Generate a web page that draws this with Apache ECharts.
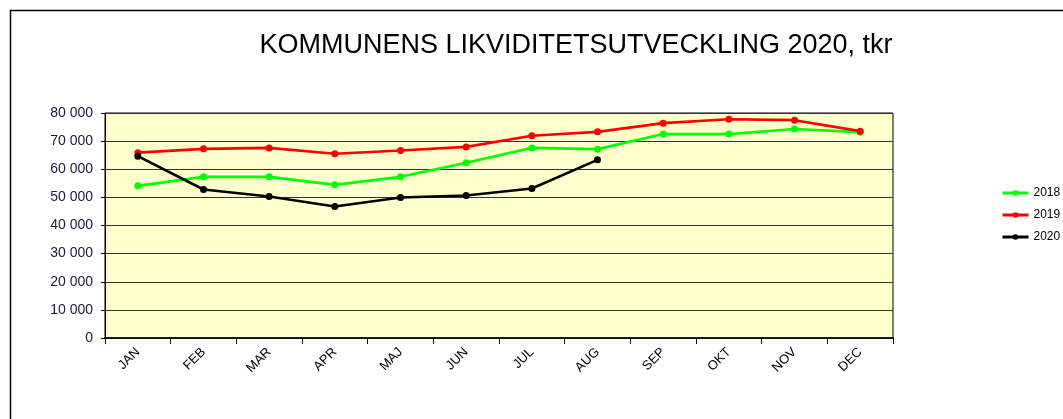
<!DOCTYPE html>
<html><head><meta charset="utf-8">
<script src="https://cdn.jsdelivr.net/npm/echarts@6/dist/echarts.min.js"></script>
<style>html,body{margin:0;padding:0;background:#fff}#c{width:1063px;height:419px}</style>
</head><body><div id="c"></div>
<script>
const months = ['JAN','FEB','MAR','APR','MAJ','JUN','JUL','AUG','SEP','OKT','NOV','DEC'];
const s2018 = [54100, 57300, 57300, 54450, 57300, 62300, 67600, 67150, 72500, 72500, 74300, 73200];
const s2019 = [65900, 67250, 67600, 65500, 66650, 67950, 71900, 73300, 76400, 77800, 77450, 73550];
const s2020 = [64650, 52800, 50300, 46750, 49950, 50650, 53150, 63350, null, null, null, null];
const yTicks = {min: 0, max: 80000, interval: 10000};
const titleText = 'KOMMUNENS LIKVIDITETSUTVECKLING 2020, tkr';

const chart = echarts.init(document.getElementById('c'), null, {renderer: 'canvas'});
function fmt(v){ return String(v).replace(/\B(?=(\d{3})+(?!\d))/g, ' '); }
function mk(name, data, color){
  return {name, type:'line', data, symbol:'circle', symbolSize:7, showSymbol:true,
    lineStyle:{color, width:2.6}, itemStyle:{color}, connectNulls:false, animation:false};
}
chart.setOption({
  animation:false,
  title:{text:titleText, left:571, top:27, textAlign:'center',
    textStyle:{fontFamily:'Liberation Sans, Arial', fontSize:27, fontWeight:'normal', color:'#000'}},
  graphic:[{type:'rect', shape:{x:10.5, y:10.5, width:1200, height:600}, style:{fill:'none', stroke:'#000', lineWidth:1.5}, silent:true, z:-1}],
  legend:{orient:'vertical', left:996, top:182, itemGap:10, itemWidth:26, itemHeight:7,
    lineStyle:{width:3},
    textStyle:{fontFamily:'Liberation Sans, Arial', fontSize:12, color:'#000'},
    data:['2018','2019','2020']},
  grid:{left:105, right:170, top:113, bottom:81, show:true, backgroundColor:'#FFFFCC', borderColor:'#000', borderWidth:1},
  xAxis:{type:'category', data:months, boundaryGap:true,
    axisLine:{lineStyle:{color:'#000', width:1.5}},
    axisTick:{show:true, length:6, lineStyle:{color:'#000'}},
    axisLabel:{rotate:45, margin:12, color:'#000', fontFamily:'Liberation Sans, Arial', fontSize:13}},
  yAxis:{type:'value', min:yTicks.min, max:yTicks.max, interval:yTicks.interval,
    axisLine:{show:true, lineStyle:{color:'#000'}},
    axisTick:{show:true, length:4, lineStyle:{color:'#000'}},
    axisLabel:{formatter:fmt, margin:12, color:'#1a1a3a', fontFamily:'Liberation Sans, Arial', fontSize:14},
    splitLine:{lineStyle:{color:'#333', width:1.2}}},
  series:[mk('2018', s2018, '#00FF00'), mk('2019', s2019, '#FF0000'), mk('2020', s2020, '#000000')]
});
</script></body></html>
